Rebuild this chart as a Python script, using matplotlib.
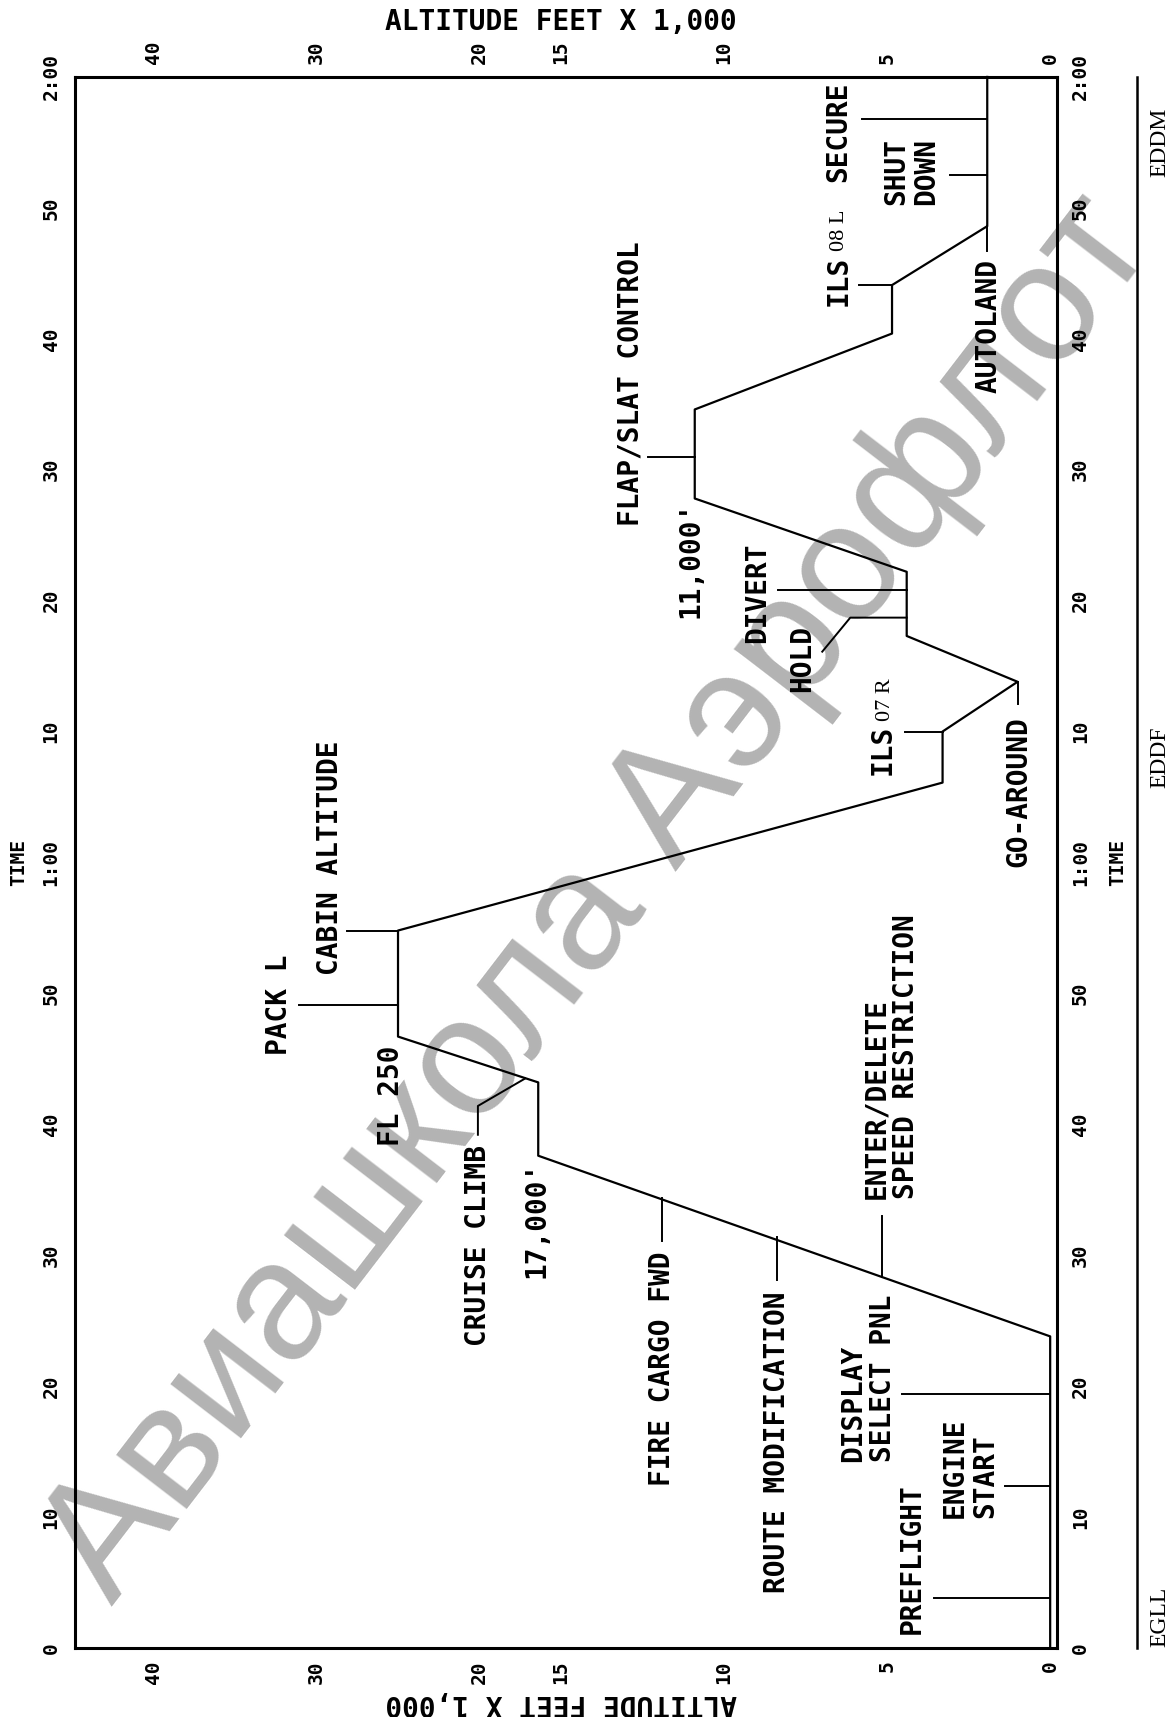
import numpy as np
import matplotlib
matplotlib.use("Agg")
import matplotlib.pyplot as plt

# flight profile: time in minutes, altitude in thousands of feet
prof_time = [0, 23.8, 37.6, 43.2, 46.7, 54.8, 66.1, 70.0, 73.8, 77.3, 82.2,
             87.8, 94.6, 100.4, 104.1, 108.6, 120]
prof_alt = [0, 0, 16.4, 16.4, 25, 25, 3.3, 3.3, 1.0, 4.4, 4.4,
            10.9, 10.9, 4.85, 4.85, 1.93, 1.93]

alt_ticks = [0, 5, 10, 15, 20, 30, 40]
time_ticks = list(range(0, 121, 10))
time_labels = ["0", "10", "20", "30", "40", "50", "1:00",
               "10", "20", "30", "40", "50", "2:00"]

# leader lines of the events: (alt, time) points
leaders = {
    "PREFLIGHT": [(0, 3.8), (3.56, 3.8)],
    "ENGINE START": [(0, 12.4), (1.38, 12.4)],
    "DISPLAY SELECT PNL": [(0, 19.4), (4.54, 19.4)],
    "ENTER/DELETE": [(5.15, 28.3), (5.15, 33.0)],
    "ROUTE MODIFICATION": [(8.37, 31.4), (8.37, 28.1)],
    "FIRE CARGO FWD": [(11.9, 34.4), (11.9, 31.1)],
    "CRUISE CLIMB": [(17.2, 43.5), (20.1, 41.4), (20.1, 39.2)],
    "PACK L": [(25, 49.1), (31.1, 49.1)],
    "CABIN ALTITUDE": [(25, 54.8), (28.1, 54.8)],
    "ILS 07R": [(3.3, 70.0), (4.45, 70.0)],
    "GO-AROUND": [(1.0, 73.8), (1.0, 72.1)],
    "HOLD": [(4.4, 78.7), (6.13, 78.7), (6.99, 76.1)],
    "DIVERT": [(4.4, 80.8), (8.34, 80.8)],
    "FLAP/SLAT": [(10.9, 91.0), (12.33, 91.0)],
    "ILS 08L": [(4.85, 104.1), (5.86, 104.1)],
    "AUTOLAND": [(1.93, 108.6), (1.93, 106.7)],
    "SHUT DOWN": [(1.93, 112.5), (3.07, 112.5)],
    "SECURE": [(1.93, 116.8), (5.77, 116.8)],
}

stations = ["EGLL", "EDDF", "EDDM"]
station_time = [2.4, 68.0, 115.0]


def fwd(a):
    a = np.asarray(a, float)
    return np.where(a <= 15, a, 15 + (a - 15) / 2)


def inv(u):
    u = np.asarray(u, float)
    return np.where(u <= 15, u, 15 + (u - 15) * 2)


MONO = "DejaVu Sans Mono"
SERIF = "Liberation Serif"

fig = plt.figure(figsize=(11.72, 17.17), dpi=100)
ax = fig.add_axes([0.0636, 0.0402, 0.8383, 0.915])
ax.set_facecolor("none")
ax.set_xscale("function", functions=(fwd, inv))
ax.set_xlim(44.84, -0.21)
ax.set_ylim(0, 120)

for s in ax.spines.values():
    s.set_linewidth(2.2)

ax.set_xticks(alt_ticks, [str(a) for a in alt_ticks])
ax.set_yticks(time_ticks, time_labels)
ax.tick_params(axis="x", top=True, labeltop=True, bottom=True, labelbottom=True,
               length=0, labelrotation=90, labelsize=14, pad=9)
ax.tick_params(axis="y", left=True, right=True, labelleft=True, labelright=True,
               length=0, labelrotation=90, labelsize=14, pad=10)
for lab in ax.get_xticklabels() + ax.get_yticklabels():
    lab.set_fontfamily(MONO)
    lab.set_fontweight("bold")
for lab in ax.get_yticklabels():
    lab.set_va("center")

ax.plot(prof_alt, prof_time, color="black", lw=1.6, zorder=3, clip_on=False)
for pts in leaders.values():
    a, t = zip(*pts)
    ax.plot(a, t, color="black", lw=1.4, zorder=3, clip_on=False)


def label(alt, t, s, va="bottom", size=20, family=MONO, weight="bold"):
    ax.text(alt, t, s, rotation=90, ha="center", va=va, fontsize=size,
            fontfamily=family, fontweight=weight, multialignment="left",
            linespacing=1.1, zorder=4)


label(4.23, 1.07, "PREFLIGHT")
label(2.45, 9.95, "ENGINE\nSTART")
label(5.58, 14.2, "DISPLAY\nSELECT PNL")
label(4.88, 34.3, "ENTER/DELETE\nSPEED RESTRICTION")
label(8.37, 27.2, "ROUTE MODIFICATION", va="top")
label(11.9, 30.3, "FIRE CARGO FWD", va="top")
label(16.5, 37.2, "17,000'", va="top")
label(20.1, 38.4, "CRUISE CLIMB", va="top")
label(25.4, 46.0, "FL 250", va="top")
label(32.3, 49.1, "PACK L", va="center")
label(29.2, 51.4, "CABIN ALTITUDE")
label(0.98, 71.2, "GO-AROUND", va="top")
label(5.15, 66.7, "ILS")
label(5.06, 70.8, "07 R", size=16, family=SERIF, weight="normal")
label(7.61, 73.0, "HOLD")
label(8.99, 76.8, "DIVERT")
label(11.04, 78.7, "11,000'")
label(12.88, 85.7, "FLAP/SLAT CONTROL")
label(6.5, 102.5, "ILS")
label(6.45, 106.7, "08 L", size=16, family=SERIF, weight="normal")
label(6.5, 112.0, "SECURE")
label(4.26, 110.2, "SHUT\nDOWN")
label(1.9, 106.1, "AUTOLAND", va="top")

# time captions beside 1:00
label(48.3, 60, "TIME", va="center", size=14)
label(-2.06, 60, "TIME", va="center", size=14)

# station strip on the right
ax.plot([-2.67, -2.67], [0, 120], color="black", lw=1.8, clip_on=False)
for st, t in zip(stations, station_time):
    label(-3.37, t, st, va="center", size=17, family=SERIF, weight="normal")

fig.text(561 / 1172, 1 - 22 / 1717, "ALTITUDE FEET X 1,000", ha="center",
         va="center", fontsize=20, fontfamily=MONO, fontweight="bold")
fig.text(561 / 1172, 1 - 1703 / 1717, "ALTITUDE FEET X 1,000", ha="center",
         va="center", fontsize=20, fontfamily=MONO, fontweight="bold",
         rotation=180)

# watermark, behind the chart
fig.text(600 / 1172, 1 - 900 / 1717, "Авиашкола Аэрофлот", ha="center",
         va="center", rotation=52.5, rotation_mode="anchor", fontsize=121,
         fontfamily="Liberation Sans", color="#b3b3b3", zorder=-1)

fig.savefig("out.png", dpi=100)
